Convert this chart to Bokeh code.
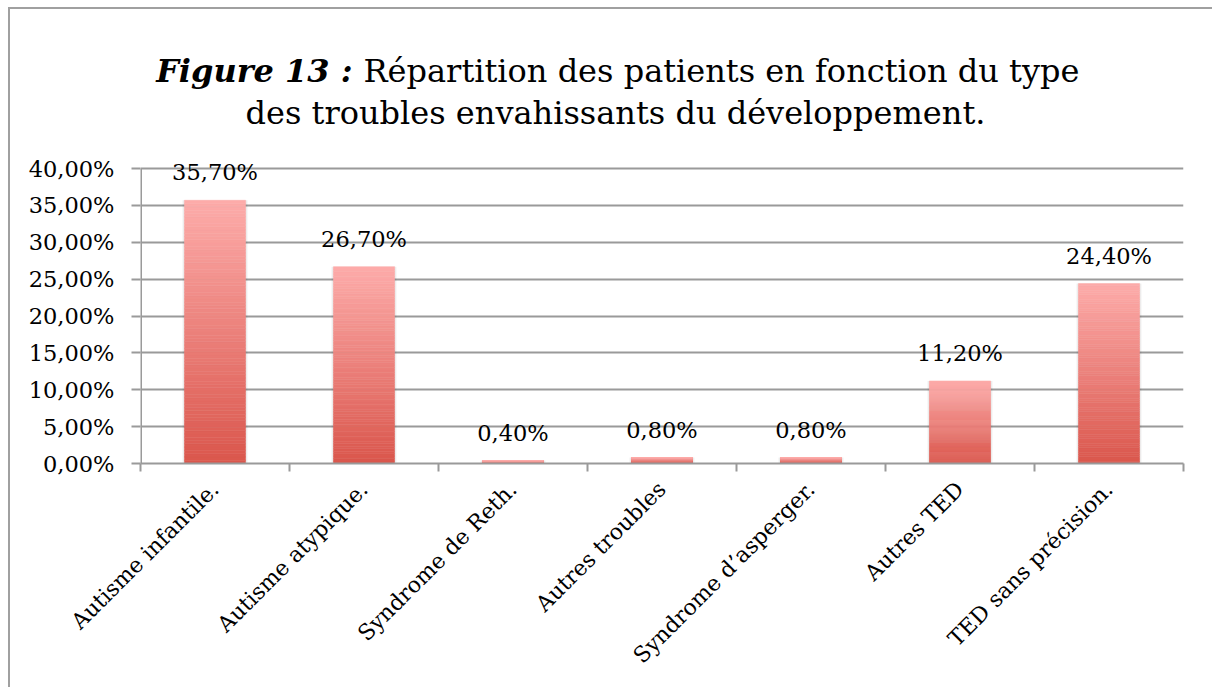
from bokeh.plotting import figure
from bokeh.models import (Range1d, FixedTicker, CustomJSTickFormatter, Label,
                          LabelSet, ColumnDataSource)
from bokeh.core.properties import value
from bokeh.embed import file_html
from bokeh.resources import INLINE
import math

categories = ["Autisme infantile.", "Autisme atypique.", "Syndrome de Reth.",
              "Autres troubles", "Syndrome d\u2019asperger.", "Autres TED",
              "TED sans précision."]
values = [0.357, 0.267, 0.004, 0.008, 0.008, 0.112, 0.244]
value_labels = ["35,70%", "26,70%", "0,40%", "0,80%", "0,80%", "11,20%", "24,40%"]
y_ticks = [0.0, 0.05, 0.10, 0.15, 0.20, 0.25, 0.30, 0.35, 0.40]

W, H = 1204, 680
FL, FB, FT = 130, 454, 19     # frame left / bottom / top in canvas pixels
SERIF = "DejaVu Serif"
GRID = "#9a9a9a"

# the frame extends up into the title area so the title texts are not clipped
p = figure(width=W, height=H, output_backend="svg", toolbar_location=None,
           x_range=Range1d(0, len(categories)), y_range=Range1d(0, 0.59),
           min_border_left=FL, min_border_right=31, min_border_top=FT,
           min_border_bottom=H - FB,
           styles={"margin-left": "8px", "margin-top": "7px",
                   "border-left": "2px solid #a0a0a0",
                   "border-top": "2px solid #a0a0a0"})
p.outline_line_color = None
p.background_fill_color = "white"
p.border_fill_color = "white"

# gridlines
p.xgrid.visible = False
p.ygrid.ticker = FixedTicker(ticks=y_ticks)
p.ygrid.grid_line_color = GRID
p.ygrid.grid_line_width = 2

# y axis (line drawn only up to the last tick)
p.yaxis.ticker = FixedTicker(ticks=y_ticks)
p.yaxis.formatter = CustomJSTickFormatter(
    code="return (tick*100).toFixed(2).replace('.', ',') + '%';")
p.yaxis.axis_line_color = None
p.yaxis.major_tick_line_color = GRID
p.yaxis.major_tick_line_width = 2
p.yaxis.major_tick_in = 0
p.yaxis.major_tick_out = 9
p.yaxis.minor_tick_line_color = None
p.yaxis.major_label_text_font = SERIF
p.yaxis.major_label_text_font_size = "22.5px"
p.yaxis.major_label_text_color = "black"
p.yaxis.major_label_standoff = 17
p.segment(x0=[0], y0=[y_ticks[0]], x1=[0], y1=[y_ticks[-1]],
          line_color=GRID, line_width=3)

# x axis
centers = [i + 0.5 for i in range(len(categories))]
bounds = list(range(len(categories) + 1))
p.xaxis.ticker = FixedTicker(ticks=centers, minor_ticks=bounds)
p.xaxis.major_label_overrides = {c: lab for c, lab in zip(centers, categories)}
p.xaxis.major_label_orientation = math.pi / 4
p.xaxis.axis_line_color = GRID
p.xaxis.axis_line_width = 2
p.xaxis.major_tick_line_color = None
p.xaxis.minor_tick_line_color = GRID
p.xaxis.minor_tick_line_width = 2
p.xaxis.minor_tick_in = 0
p.xaxis.minor_tick_out = 8
p.xaxis.major_label_text_font = SERIF
p.xaxis.major_label_text_font_size = "22px"
p.xaxis.major_label_text_color = "black"
p.xaxis.major_label_standoff = 14

# bars with vertical gradient (light top, dark bottom)
top_c = (253, 172, 170)
bot_c = (218, 86, 76)
N = 80
xs, bots, tops, cols = [], [], [], []
for c, v in zip(centers, values):
    for k in range(N):
        t = (k + 0.5) / N
        r = round(bot_c[0] + (top_c[0] - bot_c[0]) * t)
        g = round(bot_c[1] + (top_c[1] - bot_c[1]) * t)
        b = round(bot_c[2] + (top_c[2] - bot_c[2]) * t)
        xs.append(c)
        bots.append(v * k / N)
        tops.append(v * (k + 1) / N)
        cols.append("#%02x%02x%02x" % (r, g, b))

# soft shadow
p.vbar(x=centers, width=0.435, top=values, bottom=0, fill_color="#000000",
       fill_alpha=0.07, line_color=None)
p.vbar(x=xs, width=0.41, bottom=bots, top=tops, fill_color=cols,
       line_color=cols, line_width=0.5)

# value labels
src = ColumnDataSource(dict(x=centers, y=values, t=value_labels))
p.add_layout(LabelSet(x="x", y="y", text="t", source=src, y_offset=20,
                      text_align="center", text_baseline="alphabetic",
                      text_font=value(SERIF), text_font_size=value("22.5px"),
                      text_color="black"))

# title (mixed styles), positions relative to the frame's bottom-left
TS = "32px"
p.add_layout(Label(x=342 - FL, y=FB - 61, x_units="screen", y_units="screen",
                   text="Figure 13 :", text_align="right",
                   text_baseline="alphabetic", text_font=SERIF,
                   text_font_size=TS, text_font_style="bold italic",
                   text_color="black"))
p.add_layout(Label(x=353 - FL, y=FB - 61, x_units="screen", y_units="screen",
                   text="Répartition des patients en fonction du type",
                   text_align="left", text_baseline="alphabetic",
                   text_font=SERIF, text_font_size=TS, text_color="black"))
p.add_layout(Label(x=605 - FL, y=FB - 103, x_units="screen", y_units="screen",
                   text="des troubles envahissants du développement.",
                   text_align="center", text_baseline="alphabetic",
                   text_font=SERIF, text_font_size=TS, text_color="black"))

open("out.html", "w").write(file_html(p, INLINE))
